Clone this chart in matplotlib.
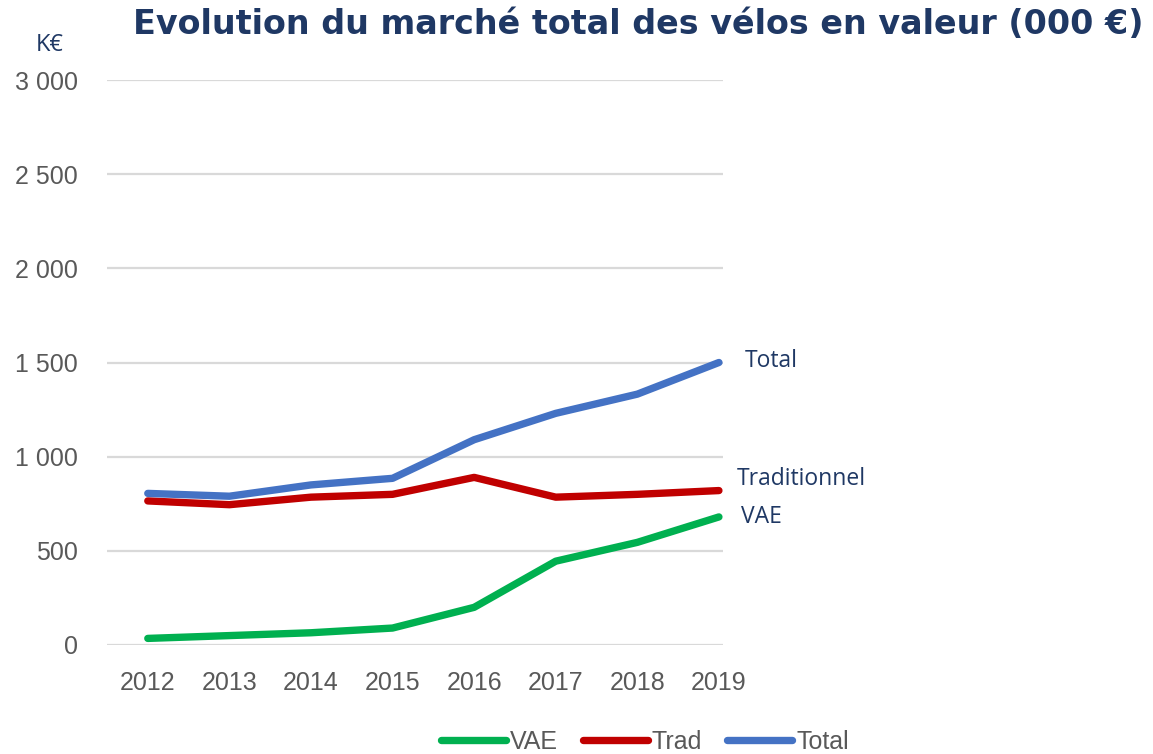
import matplotlib.pyplot as plt
import numpy as np

years = [2012, 2013, 2014, 2015, 2016, 2017, 2018, 2019]
vae = [35, 50, 65, 90, 200, 445, 545, 680]
trad = [765, 745, 785, 800, 890, 785, 800, 820]
total = [805, 790, 850, 885, 1090, 1230, 1332, 1500]

y_ticks = [0, 500, 1000, 1500, 2000, 2500, 3000]
y_tick_labels = ["0", "500", "1 000", "1 500", "2 000", "2 500", "3 000"]

end_labels = ["VAE", "Traditionnel", "Total"]
end_label_y = [677, 884, 1508]
end_label_x = [2019.27, 2019.22, 2019.32]

navy = "#1F3864"
grey = "#595959"
sans = ["Liberation Sans", "DejaVu Sans"]

fig = plt.figure(figsize=(11.53, 7.54), dpi=100)
ax = fig.add_axes([107/1153, 1 - 645/754, (723 - 107)/1153, (645 - 80)/754])

ax.plot(years, vae, color="#00B050", lw=5.3, solid_capstyle="round", label="VAE")
ax.plot(years, trad, color="#C00000", lw=5.3, solid_capstyle="round", label="Trad")
ax.plot(years, total, color="#4472C4", lw=5.3, solid_capstyle="round", label="Total")

ax.set_xlim(2011.5, 2019.05)
ax.set_ylim(0, 3000)
ax.set_yticks(y_ticks)
ax.set_yticklabels(y_tick_labels)
ax.set_xticks(years)
ax.set_xticklabels([str(y) for y in years])
ax.grid(axis="y", color="#D9D9D9", lw=1.6)
ax.set_axisbelow(True)
for s in ax.spines.values():
    s.set_visible(False)
ax.tick_params(length=0, colors=grey, labelsize=18)
ax.tick_params(axis="y", pad=21)
ax.tick_params(axis="x", pad=19)
for lab in ax.get_xticklabels() + ax.get_yticklabels():
    lab.set_family(sans)

for name, xv, yv in zip(end_labels, end_label_x, end_label_y):
    ax.text(xv, yv, name, color=navy, fontsize=16.5, va="center", ha="left",
            family=["Open Sans", "DejaVu Sans"], clip_on=False)

fig.text(133/1153, 1 - 24/754, "Evolution du marché total des vélos en valeur (000 €)",
         fontsize=24, fontweight="bold", color=navy, va="center", ha="left",
         family=["DejaVu Sans"])
fig.text(50/1153, 1 - 45/754, "K€", fontsize=17, color=navy, va="center", ha="center",
         family=["Open Sans", "DejaVu Sans"])

leg = fig.legend(loc="center", bbox_to_anchor=(645/1153, 1 - 742/754), ncol=3,
                 frameon=False, handlelength=2.6, handletextpad=0.16, columnspacing=1.0,
                 prop={"family": sans, "size": 18})
for t in leg.get_texts():
    t.set_color(grey)

fig.savefig("out.png", dpi=100)
